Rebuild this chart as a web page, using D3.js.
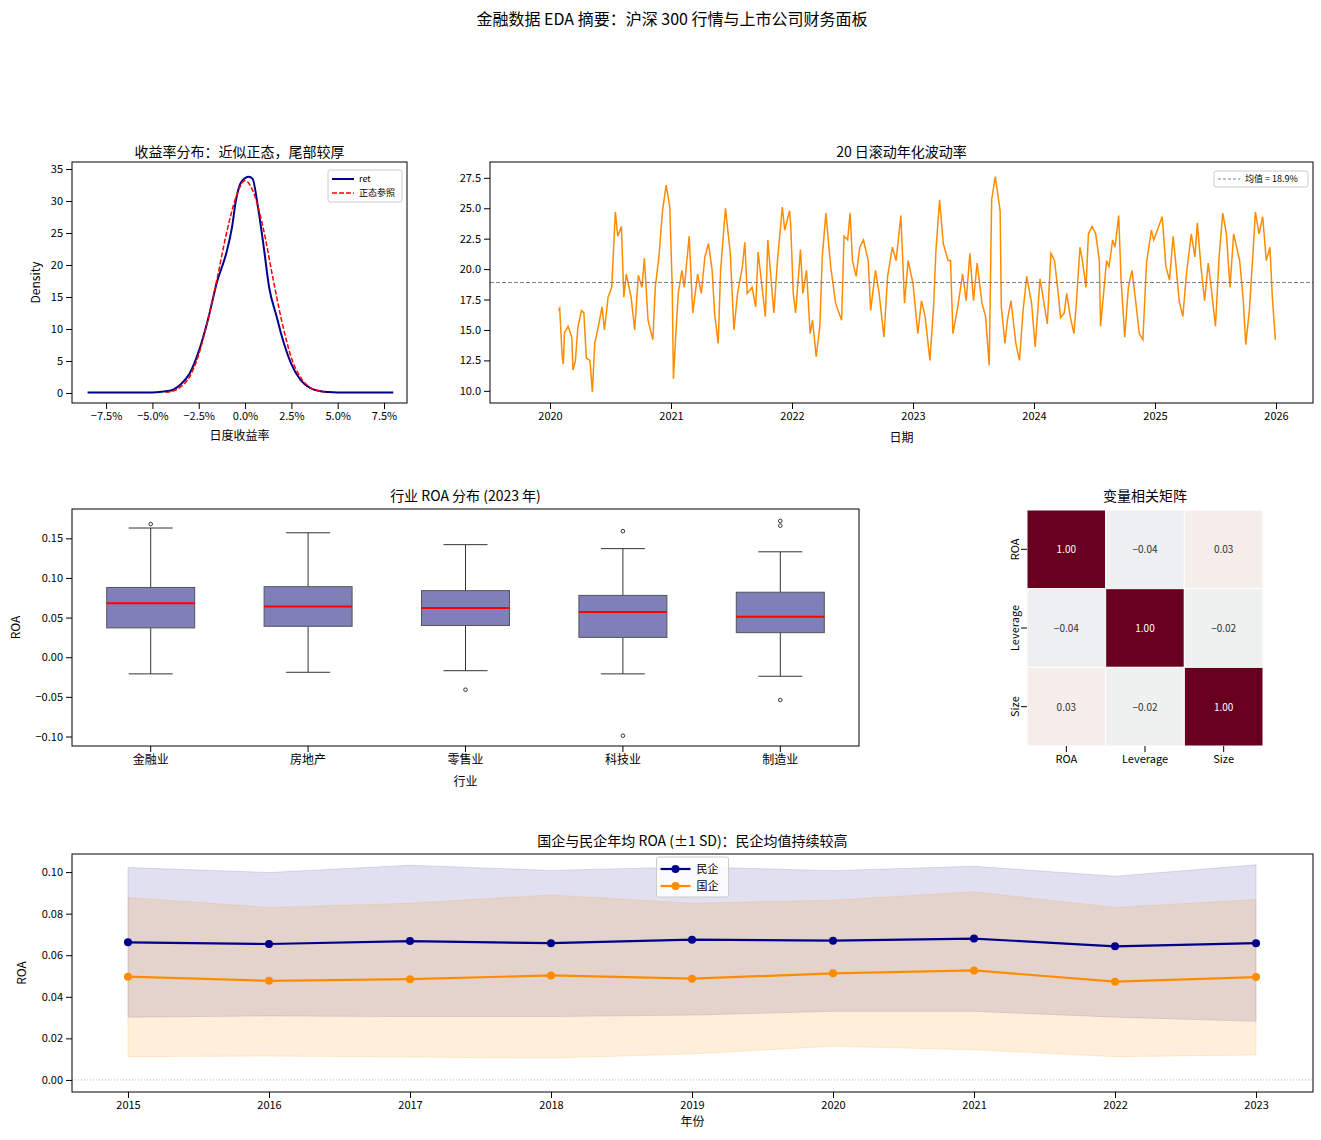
<!DOCTYPE html>
<html><head><meta charset="utf-8">
<script src="https://cdn.jsdelivr.net/npm/d3@7"></script>
<style>
body{margin:0;background:#fff;font-family:"Noto Sans CJK SC","DejaVu Sans",sans-serif;}
text{fill:#000;}
</style></head><body>
<script>
// ---- data ----
let retX = [-8.5,-5,-4.5,-4,-3.5,-3,-2.5,-2,-1.5,-1.0,-0.7,-0.5,-0.2,0.2,0.4,0.7,1.0,1.3,1.7,2.0,2.5,3.0,3.5,4.0,4.5,5,8];
let retY = [0.1,0.1,0.2,0.4,1.3,3,6.5,11.5,17.5,22,26,30,33,33.8,33.5,29,23,16.5,12,8.7,4.5,2.0,0.8,0.3,0.15,0.1,0.1];
let normX = [-4.3,-4,-3.5,-3,-2.5,-2,-1.5,-1,-0.5,0,0.5,1,1.5,2,2.5,3,3.5,4,4.3];
let normY = [0.1,0.2,0.9,2.5,6,11.5,18,25,30.5,33.2,31,25.5,18,11,5.5,2.4,0.9,0.3,0.15];

let volDates = [2020.07,2020.08,2020.10,2020.11,2020.12,2020.15,2020.18,2020.19,2020.21,2020.23,2020.26,2020.28,2020.30,2020.33,2020.35,2020.37,2020.40,2020.43,2020.45,2020.48,2020.51,2020.54,2020.56,2020.59,2020.61,2020.63,2020.67,2020.70,2020.73,2020.76,2020.78,2020.81,2020.85,2020.87,2020.90,2020.93,2020.96,2020.99,
2021.01,2021.02,2021.04,2021.06,2021.09,2021.11,2021.15,2021.18,2021.22,2021.25,2021.28,2021.31,2021.34,2021.36,2021.39,2021.41,2021.45,2021.49,2021.52,2021.55,2021.59,2021.61,2021.63,2021.67,2021.70,2021.72,2021.78,2021.80,2021.85,2021.88,2021.92,2021.94,2021.98,2021.99,
2022.01,2022.03,2022.07,2022.09,2022.12,2022.15,2022.17,2022.20,2022.23,2022.25,2022.28,2022.32,2022.36,2022.41,2022.43,2022.46,2022.48,2022.50,2022.53,2022.56,2022.59,2022.63,2022.65,2022.69,2022.72,2022.76,2022.79,2022.83,2022.86,2022.90,2022.93,2022.96,2023.00,2023.04,2023.07,2023.10,2023.14,2023.17,2023.19,2023.22,2023.25,2023.29,2023.31,2023.33,2023.37,2023.41,2023.44,2023.47,2023.50,2023.53,2023.57,2023.60,2023.63,2023.65,2023.68,2023.72,2023.73,2023.76,2023.78,2023.81,2023.85,2023.88,2023.91,2023.94,2023.98,2024.01,
2024.05,2024.07,2024.11,2024.14,2024.17,2024.20,2024.22,2024.25,2024.27,2024.30,2024.33,2024.35,2024.38,2024.40,2024.43,2024.45,2024.48,2024.51,2024.54,2024.55,2024.60,2024.62,2024.65,2024.67,2024.70,2024.72,2024.75,2024.78,2024.81,2024.84,2024.87,2024.90,2024.93,2024.97,2024.99,2025.06,2025.09,2025.12,2025.15,2025.17,2025.20,2025.23,2025.26,2025.30,2025.33,2025.35,2025.38,2025.41,2025.44,2025.47,2025.50,2025.53,2025.56,2025.59,2025.62,2025.65,2025.70,2025.73,2025.75,2025.78,2025.81,2025.83,2025.86,2025.89,2025.92,2025.95,2025.97,2025.995];
let volValues = [16.6,16.8,12.9,12.2,14.8,15.3,14.4,11.7,12.5,15.2,16.6,16.4,12.7,12.5,9.9,13.9,15.3,16.9,15.0,17.7,18.5,24.7,22.7,23.5,17.7,19.6,17.7,15.0,19.5,18.5,20.9,15.8,14.2,18.5,21.0,24.8,26.9,25.1,
18.5,11.0,14.7,18.0,19.9,18.5,22.7,16.4,19.6,18.0,21.0,22.1,19.9,16.4,13.9,19.9,25.0,21.3,15.0,18.0,20.2,22.2,18.0,18.5,16.9,21.4,16.1,22.4,16.4,20.7,25.1,23.2,24.8,23.5,
18.0,16.4,21.6,18.0,19.9,14.7,15.8,12.8,15.3,21.0,24.6,20.2,17.2,15.8,22.7,22.4,24.6,20.7,19.4,21.8,22.4,20.7,16.6,19.9,18.0,14.4,19.4,21.8,20.7,24.4,17.2,20.7,18.8,14.7,17.4,16.1,12.5,16.9,21.6,25.7,22.1,20.7,20.7,14.7,16.9,19.6,17.4,21.3,17.4,20.5,17.2,16.1,12.1,25.7,27.6,24.8,16.9,13.9,15.8,17.4,13.9,12.5,16.6,19.4,17.2,13.6,
19.2,18.0,15.5,21.3,20.7,18.0,16.0,16.4,18.0,16.1,14.7,17.2,21.8,20.7,18.5,22.9,23.5,22.9,20.7,15.3,20.7,20.2,22.4,21.8,24.4,19.1,14.4,18.5,19.9,17.4,14.7,14.2,20.5,23.2,22.4,24.3,20.2,19.1,22.7,20.7,17.4,16.1,19.6,22.9,21.0,23.8,20.2,17.4,20.5,18.0,15.3,21.0,24.6,22.9,18.5,22.9,20.7,17.4,13.8,16.6,21.3,24.7,22.9,24.3,20.7,21.8,17.7,14.2];
let volMean = 18.9;

let industries = ["金融业","房地产","零售业","科技业","制造业"];
let boxLow = [-0.021,-0.019,-0.017,-0.021,-0.024];
let boxQ1 = [0.037,0.039,0.040,0.025,0.031];
let boxMed = [0.068,0.064,0.062,0.057,0.051];
let boxQ3 = [0.088,0.089,0.084,0.078,0.082];
let boxHigh = [0.163,0.157,0.142,0.137,0.133];
let boxOutliers = [[0.168],[],[-0.041],[0.159,-0.099],[0.172,0.166,-0.054]];

let corrVars = ["ROA","Leverage","Size"];
let corrMatrix = [[1.00,-0.04,0.03],[-0.04,1.00,-0.02],[0.03,-0.02,1.00]];

let years = [2015,2016,2017,2018,2019,2020,2021,2022,2023];
let privMean = [0.0662,0.0654,0.0668,0.0658,0.0675,0.0670,0.0680,0.0643,0.0658];
let privUp = [0.1022,0.0998,0.1033,0.1008,0.1025,0.1007,0.1028,0.0980,0.1035];
let privLow = [0.0302,0.0308,0.0305,0.0305,0.0312,0.0330,0.0330,0.0302,0.0282];
let soeMean = [0.0497,0.0477,0.0485,0.0503,0.0487,0.0513,0.0527,0.0473,0.0495];
let soeUp = [0.0878,0.0830,0.0850,0.0890,0.0850,0.0865,0.0905,0.0830,0.0868];
let soeLow = [0.0112,0.0115,0.0110,0.0105,0.0125,0.0162,0.0145,0.0112,0.0120];

// ---- svg ----
let svg = d3.select("body").append("svg").attr("width",1321).attr("height",1140);
svg.append("text").attr("x",672).attr("y",25).attr("text-anchor","middle")
  .style("font-size","16px").text("金融数据 EDA 摘要：沪深 300 行情与上市公司财务面板");

function frame(g,w,h){
  g.append("rect").attr("width",w).attr("height",h).attr("fill","none").attr("stroke","#000").attr("stroke-width",1);
}
function styleAxis(a){
  a.selectAll("text").style("font-size","11px").style("font-family","'Noto Sans CJK SC','DejaVu Sans',sans-serif");
  a.select(".domain").remove();
  a.selectAll("line").attr("stroke","#000");
}
function title(g,x,y,t){
  g.append("text").attr("x",x).attr("y",y).attr("text-anchor","middle").style("font-size","14px").text(t);
}

// Panel 1: density
{
  let L=72,T=162,W=335,H=241;
  let g=svg.append("g").attr("transform",`translate(${L},${T})`);
  let x=d3.scaleLinear().domain([-9.34,8.74]).range([0,W]);
  let y=d3.scaleLinear().domain([-1.56,36.1]).range([H,0]);
  let ax=g.append("g").attr("transform",`translate(0,${H})`).call(d3.axisBottom(x).tickValues([-7.5,-5,-2.5,0,2.5,5,7.5]).tickFormat(d=>d3.format(".1f")(d)+"%").tickSizeOuter(0));
  styleAxis(ax);
  let ay=g.append("g").call(d3.axisLeft(y).tickValues([0,5,10,15,20,25,30,35]).tickSizeOuter(0));
  styleAxis(ay);
  let line=d3.line().x(d=>x(d[0])).y(d=>y(d[1])).curve(d3.curveMonotoneX);
  g.append("path").datum(retX.map((v,i)=>[v,retY[i]])).attr("d",line).attr("fill","none").attr("stroke","#00008b").attr("stroke-width",2);
  g.append("path").datum(normX.map((v,i)=>[v,normY[i]])).attr("d",line).attr("fill","none").attr("stroke","red").attr("stroke-width",1.5).attr("stroke-dasharray","5,2");
  frame(g,W,H);
  title(g,W/2,-5,"收益率分布：近似正态，尾部较厚");
  g.append("text").attr("x",W/2).attr("y",H+37).attr("text-anchor","middle").style("font-size","12px").text("日度收益率");
  g.append("text").attr("transform",`translate(-32,${H/2}) rotate(-90)`).attr("text-anchor","middle").style("font-size","12px").text("Density");
  let lg=g.append("g").attr("transform",`translate(${W-79},8)`);
  lg.append("rect").attr("width",74).attr("height",32).attr("fill","#fff").attr("stroke","#ccc").attr("rx",2);
  lg.append("line").attr("x1",4).attr("x2",26).attr("y1",9).attr("y2",9).attr("stroke","#00008b").attr("stroke-width",2);
  lg.append("text").attr("x",31).attr("y",12).style("font-size","9px").text("ret");
  lg.append("line").attr("x1",4).attr("x2",26).attr("y1",23).attr("y2",23).attr("stroke","red").attr("stroke-width",1.5).attr("stroke-dasharray","5,2");
  lg.append("text").attr("x",31).attr("y",26).style("font-size","9px").text("正态参照");
}

// Panel 2: volatility
{
  let L=490,T=162,W=823,H=241;
  let g=svg.append("g").attr("transform",`translate(${L},${T})`);
  let x=d3.scaleLinear().domain([2019.504,2026.306]).range([0,W]);
  let y=d3.scaleLinear().domain([9.0,28.8]).range([H,0]);
  let ax=g.append("g").attr("transform",`translate(0,${H})`).call(d3.axisBottom(x).tickValues(d3.range(2020,2027)).tickFormat(d3.format("d")).tickSizeOuter(0));
  styleAxis(ax);
  let ay=g.append("g").call(d3.axisLeft(y).tickValues([10,12.5,15,17.5,20,22.5,25,27.5]).tickFormat(d3.format(".1f")).tickSizeOuter(0));
  styleAxis(ay);
  g.append("path").datum(volDates.map((v,i)=>[v,volValues[i]])).attr("d",d3.line().x(d=>x(d[0])).y(d=>y(d[1])))
    .attr("fill","none").attr("stroke","#ff8c00").attr("stroke-width",1.5);
  g.append("line").attr("x1",0).attr("x2",W).attr("y1",y(volMean)).attr("y2",y(volMean)).attr("stroke","#808080").attr("stroke-dasharray","4,2");
  frame(g,W,H);
  title(g,W/2,-5,"20 日滚动年化波动率");
  g.append("text").attr("x",W/2).attr("y",H+39).attr("text-anchor","middle").style("font-size","12px").text("日期");
  let lg=g.append("g").attr("transform",`translate(${W-99},9)`);
  lg.append("rect").attr("width",94).attr("height",16).attr("fill","#fff").attr("stroke","#ccc").attr("rx",2);
  lg.append("line").attr("x1",4).attr("x2",26).attr("y1",8).attr("y2",8).attr("stroke","#808080").attr("stroke-dasharray","3,2");
  lg.append("text").attr("x",31).attr("y",11).style("font-size","9px").text("均值 = "+volMean+"%");
}

// Panel 3: boxplot
{
  let L=72,T=509,W=787,H=237;
  let g=svg.append("g").attr("transform",`translate(${L},${T})`);
  let x=d3.scaleBand().domain(industries).range([0,W]).padding(0);
  let y=d3.scaleLinear().domain([-0.112,0.187]).range([H,0]);
  let ax=g.append("g").attr("transform",`translate(0,${H})`).call(d3.axisBottom(x).tickSizeOuter(0));
  styleAxis(ax); ax.selectAll("text").style("font-size","12px");
  let ay=g.append("g").call(d3.axisLeft(y).tickValues([-0.10,-0.05,0,0.05,0.10,0.15]).tickFormat(d3.format(".2f")).tickSizeOuter(0));
  styleAxis(ay);
  let bw=88, cw=44;
  industries.forEach((c,i)=>{
    let cx=x(c)+x.bandwidth()/2;
    g.append("line").attr("x1",cx).attr("x2",cx).attr("y1",y(boxHigh[i])).attr("y2",y(boxQ3[i])).attr("stroke","#333");
    g.append("line").attr("x1",cx).attr("x2",cx).attr("y1",y(boxQ1[i])).attr("y2",y(boxLow[i])).attr("stroke","#333");
    g.append("line").attr("x1",cx-cw/2).attr("x2",cx+cw/2).attr("y1",y(boxHigh[i])).attr("y2",y(boxHigh[i])).attr("stroke","#333");
    g.append("line").attr("x1",cx-cw/2).attr("x2",cx+cw/2).attr("y1",y(boxLow[i])).attr("y2",y(boxLow[i])).attr("stroke","#333");
    g.append("rect").attr("x",cx-bw/2).attr("width",bw).attr("y",y(boxQ3[i])).attr("height",y(boxQ1[i])-y(boxQ3[i]))
      .attr("fill","#7f7fba").attr("stroke","#555");
    g.append("line").attr("x1",cx-bw/2).attr("x2",cx+bw/2).attr("y1",y(boxMed[i])).attr("y2",y(boxMed[i])).attr("stroke","red").attr("stroke-width",2);
    boxOutliers[i].forEach(o=>g.append("circle").attr("cx",cx).attr("cy",y(o)).attr("r",1.8).attr("fill","none").attr("stroke","#333"));
  });
  frame(g,W,H);
  title(g,W/2,-8,"行业 ROA 分布 (2023 年)");
  g.append("text").attr("x",W/2).attr("y",H+40).attr("text-anchor","middle").style("font-size","12px").text("行业");
  g.append("text").attr("transform",`translate(-52,${H/2}) rotate(-90)`).attr("text-anchor","middle").style("font-size","12px").text("ROA");
}

// Panel 4: heatmap
{
  let L=1027,T=510,W=236,H=236;
  let g=svg.append("g").attr("transform",`translate(${L},${T})`);
  let x=d3.scaleBand().domain(corrVars).range([0,W]);
  let y=d3.scaleBand().domain(corrVars).range([0,H]);
  let color=d3.scaleSequential(d3.interpolateRdBu).domain([1,-1]);
  corrVars.forEach((r,i)=>corrVars.forEach((c,j)=>{
    let v=corrMatrix[i][j];
    g.append("rect").attr("x",x(c)).attr("y",y(r)).attr("width",x.bandwidth()).attr("height",y.bandwidth())
      .attr("fill",v===1?"#67001f":color(v)).attr("stroke","#fff").attr("stroke-width",1);
    g.append("text").attr("x",x(c)+x.bandwidth()/2).attr("y",y(r)+y.bandwidth()/2+4).attr("text-anchor","middle")
      .style("font-size","10px").style("fill",v>0.5?"#fff":"#333").text(d3.format(".2f")(v).replace("-","−"));
  }));
  let ax=g.append("g").attr("transform",`translate(0,${H})`).call(d3.axisBottom(x).tickSizeOuter(0));
  styleAxis(ax);
  let ay=g.append("g").call(d3.axisLeft(y).tickSizeOuter(0));
  styleAxis(ay);
  ay.selectAll("text").attr("transform","rotate(-90)").attr("x",0).attr("dx",0).attr("y",-12).attr("text-anchor","middle");
  title(g,W/2,-9,"变量相关矩阵");
}

// Panel 5: ROA over time
{
  let L=72,T=854,W=1241,H=238;
  let g=svg.append("g").attr("transform",`translate(${L},${T})`);
  let x=d3.scaleLinear().domain([2014.603,2023.404]).range([0,W]);
  let y=d3.scaleLinear().domain([-0.0058,0.1087]).range([H,0]);
  let ax=g.append("g").attr("transform",`translate(0,${H})`).call(d3.axisBottom(x).tickValues(years).tickFormat(d3.format("d")).tickSizeOuter(0));
  styleAxis(ax);
  let ay=g.append("g").call(d3.axisLeft(y).tickValues([0,0.02,0.04,0.06,0.08,0.10]).tickFormat(d3.format(".2f")).tickSizeOuter(0));
  styleAxis(ay);
  let area=d3.area().x(d=>x(d[0])).y0(d=>y(d[1])).y1(d=>y(d[2]));
  g.append("path").datum(years.map((v,i)=>[v,privLow[i],privUp[i]])).attr("d",area).attr("fill","#00008b").attr("fill-opacity",0.12).attr("stroke","#00008b").attr("stroke-opacity",0.12);
  g.append("path").datum(years.map((v,i)=>[v,soeLow[i],soeUp[i]])).attr("d",area).attr("fill","#ff8c00").attr("fill-opacity",0.15).attr("stroke","#ff8c00").attr("stroke-opacity",0.15);
  g.append("line").attr("x1",0).attr("x2",W).attr("y1",y(0)).attr("y2",y(0)).attr("stroke","#888").attr("stroke-width",0.6).attr("stroke-dasharray","1,2");
  let line=d3.line().x(d=>x(d[0])).y(d=>y(d[1]));
  [[privMean,"#00008b"],[soeMean,"#ff8c00"]].forEach(([s,c])=>{
    g.append("path").datum(years.map((v,i)=>[v,s[i]])).attr("d",line).attr("fill","none").attr("stroke",c).attr("stroke-width",2.2);
    g.selectAll(null).data(years.map((v,i)=>[v,s[i]])).enter().append("circle").attr("cx",d=>x(d[0])).attr("cy",d=>y(d[1])).attr("r",4).attr("fill",c);
  });
  frame(g,W,H);
  title(g,W/2,-8,"国企与民企年均 ROA (±1 SD)：民企均值持续较高");
  g.append("text").attr("x",W/2).attr("y",H+34).attr("text-anchor","middle").style("font-size","12px").text("年份");
  g.append("text").attr("transform",`translate(-46,${H/2}) rotate(-90)`).attr("text-anchor","middle").style("font-size","12px").text("ROA");
  let lg=g.append("g").attr("transform",`translate(${W/2-36},3)`);
  lg.append("rect").attr("width",72).attr("height",40).attr("fill","#fff").attr("fill-opacity",0.85).attr("stroke","#ccc").attr("rx",2);
  [["民企","#00008b"],["国企","#ff8c00"]].forEach(([t,c],i)=>{
    lg.append("line").attr("x1",4).attr("x2",34).attr("y1",12+i*17).attr("y2",12+i*17).attr("stroke",c).attr("stroke-width",2.2);
    lg.append("circle").attr("cx",19).attr("cy",12+i*17).attr("r",4).attr("fill",c);
    lg.append("text").attr("x",40).attr("y",16+i*17).style("font-size","11px").text(t);
  });
}
</script>
</body></html>
